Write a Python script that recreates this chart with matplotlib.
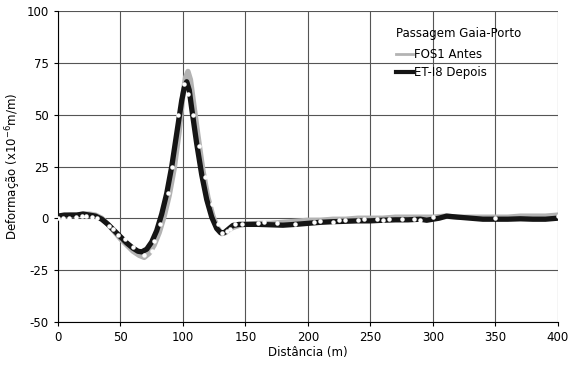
import matplotlib
matplotlib.use("Agg")
import matplotlib.pyplot as plt
from matplotlib.lines import Line2D

plt.rcParams["axes.unicode_minus"] = False

# Passagem Gaia-Porto - deformação ao longo da distância
dist_antes = [0, 5, 10, 15, 20, 25, 30, 35, 40, 45, 50, 55, 60, 65, 69, 73, 77, 81, 85, 89,
              93, 97, 100, 102, 104, 106, 108, 112, 116, 120, 124, 128, 131, 134, 137, 140,
              145, 150, 160, 170, 180, 190, 200, 210, 220, 230, 240, 250, 260, 270, 280, 290,
              300, 310, 320, 330, 340, 350, 360, 370, 380, 390, 400]
def_antes = [0.5, 1, 1.5, 1.5, 2, 2, 1.5, 0, -3, -6.5, -10, -13, -16, -18, -19, -17, -13, -7, 1, 11,
             24, 42, 60, 68, 71, 67, 58, 40, 23, 10, 1, -5, -7.5, -7, -5.5, -4.5,
             -3.5, -3, -2.5, -2.5, -2, -1.5, -1, -1, -0.5, -0.5, 0, 0, 0, 0.5, 0.5, 0.5,
             0.5, 1, 0.5, 0.5, 0.5, 0.5, 0.5, 1, 1, 1, 1.5]

dist_depois = [0, 5, 10, 15, 20, 25, 30, 35, 40, 45, 50, 55, 60, 64, 67, 71, 75, 79, 83, 87,
               91, 95, 99, 101, 103, 105, 107, 111, 115, 119, 123, 127, 130, 133, 136, 140,
               145, 150, 160, 170, 180, 190, 200, 210, 220, 230, 240, 250, 260, 270, 280, 290,
               295, 300, 305, 311, 320, 330, 340, 350, 360, 370, 380, 390, 400]
def_depois = [1, 1.5, 1.5, 1.5, 2, 1.5, 1, -0.5, -3, -6, -9, -12, -14.5, -16, -16.3, -15, -11.5, -6, 2, 12,
              25, 41, 57, 63, 66, 62, 53, 36, 21, 9, 0.5, -5, -7, -7, -5.5, -3.5,
              -3, -3, -3, -3.2, -3.4, -3, -2.5, -2, -1.7, -1.5, -1.3, -1.3, -1, -0.8, -0.8, -0.5,
              -1, -0.5, 0, 1, 0.5, 0, -0.5, -0.5, -0.5, -0.3, -0.5, -0.5, 0]

# pontos brancos (leituras) sobre as curvas
dist_pts = [0, 4, 9, 14, 19, 22, 27, 31, 41, 44, 48, 54, 60, 69, 75, 77, 82, 88, 91, 96,
            101, 104, 108, 113, 118, 123, 128, 131, 135, 138, 142, 147, 160, 165, 175, 190,
            205, 210, 220, 225, 230, 240, 245, 255, 260, 265, 275, 285, 290, 300, 350, 400]
def_pts = [0, 0, 0, 0.5, 1, 1, 0.5, 0, -4, -5, -8, -10, -14, -18, -16, -11, -3, 12, 25, 50,
           65, 60, 50, 35, 20, 7, -3, -7, -6, -5, -3, -3, -2.5, -2, -2.5, -3,
           -2, -1.5, -2, -1, -1, -1, -0.5, -0.5, -1, -0.5, -0.5, -0.5, -1, 0.5, 0, 1]

fig = plt.figure(figsize=(5.71, 3.70), dpi=100)
ax = fig.add_axes([0.1016, 0.131, 0.8754, 0.838])

ax.plot(dist_antes, def_antes, color="#b3b3b3", lw=3.8, zorder=3)
ax.plot(dist_depois, def_depois, color="#151515", lw=3.8, zorder=4)
ax.plot(dist_pts, def_pts, ls="none", marker="o", ms=2.2, color="white", zorder=5)

ax.set_xlim(0, 400)
ax.set_ylim(-50, 100)
ax.set_xticks(range(0, 401, 50))
ax.set_yticks(range(-50, 101, 25))
ax.grid(True, color="#555555", lw=0.8)
ax.set_axisbelow(True)
for s in ["top", "right"]:
    ax.spines[s].set_visible(False)
for s in ["left", "bottom"]:
    ax.spines[s].set_color("black")
ax.tick_params(labelsize=8.5, length=3, color="black")

ax.set_xlabel("Distância (m)", fontsize=8.5, labelpad=2)
ax.set_ylabel("Deformação (x10$^{-6}$m/m)", fontsize=8.5)
ax.yaxis.set_label_coords(-0.07, 0.5)

handles = [Line2D([], [], color="#b3b3b3", lw=2), Line2D([], [], color="#151515", lw=3)]
leg = ax.legend(handles, ["FOS1 Antes", "ET-I8 Depois"], title="Passagem Gaia-Porto",
                loc="upper left", bbox_to_anchor=(0.66, 0.978), frameon=False,
                fontsize=8.5, title_fontsize=8.5, handlelength=1.4,
                handletextpad=0.15, labelspacing=0.45, borderpad=0.2)
leg._legend_box.align = "left"
leg._legend_box.sep = 6

fig.savefig("out.png", dpi=100)
